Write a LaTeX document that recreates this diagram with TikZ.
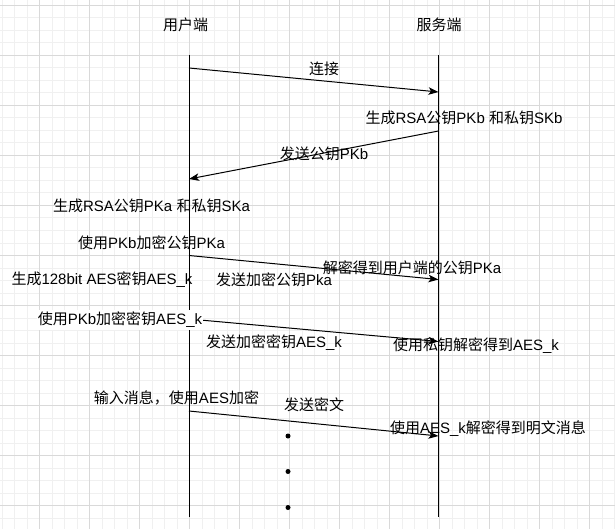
\documentclass[tikz,border=0pt]{standalone}
\usepackage{fontspec}
\setmainfont{Liberation Sans}
\newfontfamily\cjk{Noto Sans CJK SC}
\usetikzlibrary{arrows.meta}
\newcommand{\zh}[1]{{\cjk #1}}

\definecolor{gridmajor}{HTML}{D9D9D9}
\definecolor{gridminor}{HTML}{F0F0F0}

\tikzset{
  lbl/.style={inner sep=0pt, font=\fontsize{15}{18}\selectfont},
  lifeline/.style={draw=black, line width=1pt},
  msg/.style={draw=black, line width=1pt, -{Stealth[length=10pt,width=7.5pt,inset=2.5pt]}},
  dotmark/.style={circle, fill=black, inner sep=0pt, minimum size=5pt},
}

\begin{document}
\begin{tikzpicture}[x=1pt,y=-1pt]
  \useasboundingbox (0,0) rectangle (615,529);
  \fill[white] (0,0) rectangle (615,529);

  % background grid
  \foreach \gx in {2,14.5,...,615} \draw[gridminor, line width=1pt] (\gx,0) -- (\gx,529);
  \foreach \gy in {5.5,18,...,529} \draw[gridminor, line width=1pt] (0,\gy) -- (615,\gy);
  \foreach \gx in {39.5,89.5,...,615} \draw[gridmajor, line width=1pt] (\gx,0) -- (\gx,529);
  \foreach \gy in {5.5,55.5,...,529} \draw[gridmajor, line width=1pt] (0,\gy) -- (615,\gy);

  % participants
  \node[lbl] (client) at (185.5,25) {\zh{用户端}};
  \node[lbl] (server) at (439,25) {\zh{服务端}};

  % lifelines
  \coordinate (ctop) at (189,55);
  \coordinate (cbot) at (189,517);
  \coordinate (stop) at (438.5,55);
  \coordinate (sbot) at (438.5,517);
  \draw[lifeline] (ctop) -- (cbot);
  \draw[lifeline] (stop) -- (sbot);

  % message end points on the lifelines
  \coordinate (c1) at (189,68);    \coordinate (s1) at (438.5,92);
  \coordinate (s2) at (438.5,131); \coordinate (c2) at (189,179);
  \coordinate (c3) at (189,255.5); \coordinate (s3) at (438.5,279.5);
  \coordinate (c4) at (189,319);   \coordinate (s4) at (438.5,341.5);
  \coordinate (c5) at (189,411);   \coordinate (s5) at (438.5,436);

  % messages
  \draw[msg] (c1) -- (s1);
  \draw[msg] (s2) -- (c2);
  \draw[msg] (c3) -- (s3);
  \draw[msg] (c4) -- (s4);
  \draw[msg] (c5) -- (s5);

  % labels
  \node[lbl] (connect) at (324,69) {\zh{连接}};
  \node[lbl] (genb) at (464,118) {\zh{生成}RSA\zh{公钥}PKb \zh{和私钥}SKb};
  \node[lbl] (sendpkb) at (324,154) {\zh{发送公钥}PKb};
  \node[lbl] (gena) at (151.5,206) {\zh{生成}RSA\zh{公钥}PKa \zh{和私钥}SKa};
  \node[lbl] (encpka) at (151.5,243) {\zh{使用}PKb\zh{加密公钥}PKa};
  \node[lbl] (decpka) at (412,268) {\zh{解密得到用户端的公钥}PKa};
  \node[lbl] (genaes) at (102,280) {\zh{生成}128bit AES\zh{密钥}AES\_k};
  \node[lbl] (sendpka) at (274,280) {\zh{发送加密公钥}Pka};
  \node[lbl, fill=white, inner xsep=1pt, inner ysep=2pt] (encaes) at (120,320) {\zh{使用}PKb\zh{加密密钥}AES\_k};
  \node[lbl] (sendaes) at (274,343) {\zh{发送加密密钥}AES\_k};
  \node[lbl] (decaes) at (476,346) {\zh{使用私钥解密得到}AES\_k};
  \node[lbl] (encmsg) at (176.5,398) {\zh{输入消息，使用}AES\zh{加密}};
  \node[lbl] (sendct) at (314,405) {\zh{发送密文}};
  \node[lbl] (decmsg) at (488,429) {\zh{使用}AES\_k\zh{解密得到明文消息}};

  % continuation dots
  \node[dotmark] (dot1) at (288,436) {};
  \node[dotmark] (dot2) at (288,471.5) {};
  \node[dotmark] (dot3) at (288,507.5) {};
\end{tikzpicture}
\end{document}
